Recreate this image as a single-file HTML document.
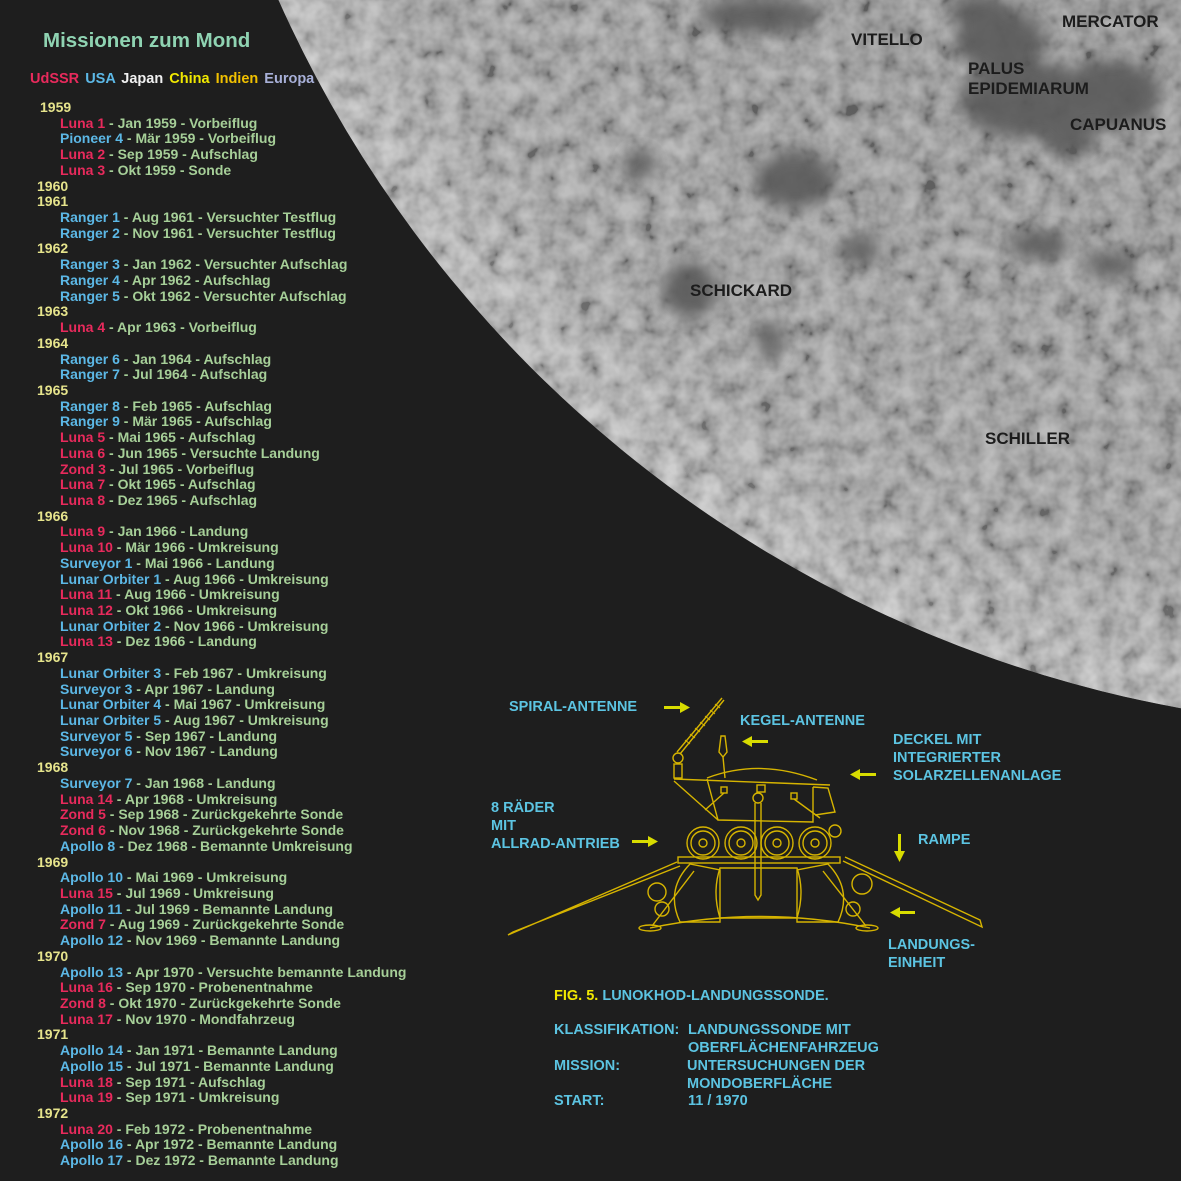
<!DOCTYPE html>
<html><head><meta charset="utf-8"><style>
body{margin:0;width:1181px;height:1181px;background:#1e1e1e;overflow:hidden;position:relative;font-family:"Liberation Sans",sans-serif;font-weight:bold}
.a{position:absolute;white-space:nowrap}
#list{position:absolute;left:0;top:100px;font-size:14px;line-height:15.72px;color:#a6cf98}
#list div{white-space:nowrap;padding-left:60px;height:15.72px}
#list .y{padding-left:37px;color:#e6e48c}
.r{color:#e82a5c}.b{color:#5cb8e6}
.m{color:#1c1c1c;font-size:17px}
.c{color:#5cc4e2;font-size:14.5px;line-height:18px}
</style></head><body>
<svg class="a" style="left:0;top:0" width="1181" height="1181">
<defs>
<radialGradient id="g" cx="1400" cy="-500" r="1228" gradientUnits="userSpaceOnUse">
<stop offset="0.5" stop-color="#8a8a8a"/><stop offset="0.9" stop-color="#9c9c9c"/><stop offset="1" stop-color="#b8b8b8"/></radialGradient>
<filter id="n"><feTurbulence type="fractalNoise" baseFrequency="0.05" numOctaves="3" seed="4"/><feColorMatrix values="1.6 0 0 0 -0.3 1.6 0 0 0 -0.3 1.6 0 0 0 -0.3 0 0 0 0 0.35"/></filter>
<filter id="bl"><feGaussianBlur stdDeviation="8"/></filter>
<clipPath id="cp"><circle cx="1400" cy="-500" r="1228"/></clipPath>
</defs>
<g clip-path="url(#cp)">
<circle cx="1400" cy="-500" r="1228" fill="url(#g)"/>
<rect width="1181" height="1181" filter="url(#n)"/>
<g fill="#5a5a5a" filter="url(#bl)" opacity="0.9">
<ellipse cx="1000" cy="40" rx="45" ry="30"/><ellipse cx="1030" cy="100" rx="70" ry="38"/><ellipse cx="1110" cy="95" rx="50" ry="35"/>
<ellipse cx="980" cy="10" rx="30" ry="15"/><ellipse cx="1070" cy="140" rx="25" ry="15"/>
<ellipse cx="795" cy="180" rx="40" ry="28"/><ellipse cx="690" cy="290" rx="28" ry="28"/><ellipse cx="770" cy="340" rx="12" ry="20"/>
<ellipse cx="760" cy="15" rx="60" ry="18"/><ellipse cx="1040" cy="245" rx="30" ry="14"/><ellipse cx="1110" cy="265" rx="25" ry="12"/>
<ellipse cx="860" cy="250" rx="20" ry="14"/><ellipse cx="640" cy="165" rx="15" ry="15"/>
</g>
</g>
<g stroke="#d6b400" stroke-width="1.4" fill="none">
<line x1="677" y1="752" x2="722" y2="698"/><line x1="680" y1="754" x2="724" y2="700"/>
<g stroke-width="1"><line x1="685" y1="740" x2="690" y2="744"/><line x1="690" y1="734" x2="695" y2="738"/><line x1="695" y1="728" x2="700" y2="732"/><line x1="700" y1="722" x2="705" y2="726"/><line x1="705" y1="716" x2="710" y2="720"/><line x1="710" y1="710" x2="715" y2="714"/><line x1="715" y1="704" x2="720" y2="708"/></g>
<circle cx="678" cy="758" r="5"/><rect x="674" y="764" width="8" height="14"/>
<path d="M721 736 L725 736 L727 752 L723 757 L719 752 Z"/><line x1="723" y1="757" x2="725" y2="778"/>
<path d="M674 779 L830 785"/>
<path d="M707 778 Q760 758 817 780"/>
<path d="M707 779 L718 820 L813 822 L813 787"/>
<path d="M674 781 L718 820"/><path d="M813 787 L828 788 L835 812 L815 815"/>
<rect x="721" y="787" width="6" height="6"/><line x1="724" y1="793" x2="705" y2="810"/>
<rect x="791" y="793" width="6" height="6"/><line x1="794" y1="799" x2="820" y2="818"/>
<circle cx="835" cy="831" r="6"/>
<g>
<circle cx="703" cy="843" r="16"/><circle cx="703" cy="843" r="12"/><circle cx="703" cy="843" r="4"/>
<circle cx="741" cy="843" r="16"/><circle cx="741" cy="843" r="12"/><circle cx="741" cy="843" r="4"/>
<circle cx="777" cy="843" r="16"/><circle cx="777" cy="843" r="12"/><circle cx="777" cy="843" r="4"/>
<circle cx="815" cy="843" r="16"/><circle cx="815" cy="843" r="12"/><circle cx="815" cy="843" r="4"/>
</g>
<rect x="757" y="785" width="8" height="7"/><circle cx="758" cy="798" r="5"/>
<path d="M755 803 L755 895 L758 900 L761 895 L761 803"/>
<rect x="678" y="857" width="162" height="6"/>
<path d="M677 862 L508 935 L513 932 L680 866"/>
<path d="M843 861 L982 927 L980 920 L845 857"/>
<path d="M690 864 Q665 890 680 922 L720 922 L720 870 Z"/>
<path d="M720 868 Q712 892 720 918 L797 918 Q805 892 797 868 Z"/>
<path d="M828 864 Q853 890 838 922 L797 922 L797 870 Z"/>
<path d="M650 928 Q760 905 870 928"/>
<ellipse cx="650" cy="928" rx="11" ry="3"/><ellipse cx="867" cy="928" rx="11" ry="3"/>
<circle cx="657" cy="892" r="9"/><circle cx="862" cy="884" r="10"/><circle cx="662" cy="909" r="7"/><circle cx="853" cy="909" r="7"/>
<line x1="694" y1="871" x2="652" y2="926"/><line x1="823" y1="871" x2="866" y2="926"/>
</g>
<g fill="#d8dc00">
<path d="M664 706 L680 706 L680 702 L690 707.5 L680 713 L680 709 L664 709 Z"/>
<path d="M768 740 L752 740 L752 736 L742 741.5 L752 747 L752 743 L768 743 Z"/>
<path d="M876 773 L860 773 L860 769 L850 774.5 L860 780 L860 776 L876 776 Z"/>
<path d="M632 840 L648 840 L648 836 L658 841.5 L648 847 L648 843 L632 843 Z"/>
<path d="M898 834 L898 851 L894 851 L899.5 862 L905 851 L901 851 L901 834 Z"/>
<path d="M915 911 L900 911 L900 907 L890 912.5 L900 918 L900 914 L915 914 Z"/>
</g>
</svg>
<div class="a" style="left:43px;top:29px;font-size:20.5px;color:#8fd3b2">Missionen zum Mond</div>
<div class="a" style="left:30px;top:71px;font-size:14.5px;word-spacing:2px"><span class="r">UdSSR</span> <span class="b">USA</span> <span style="color:#f0f0f0">Japan</span> <span style="color:#f0e800">China</span> <span style="color:#f0c000">Indien</span> <span style="color:#a8b0d8">Europa</span></div>
<div id="list">
<div class="y" style="padding-left:40px">1959</div>
<div><span class="r">Luna 1</span> - Jan 1959 - Vorbeiflug</div>
<div><span class="b">Pioneer 4</span> - Mär 1959 - Vorbeiflug</div>
<div><span class="r">Luna 2</span> - Sep 1959 - Aufschlag</div>
<div><span class="r">Luna 3</span> - Okt 1959 - Sonde</div>
<div class="y">1960</div>
<div class="y">1961</div>
<div><span class="b">Ranger 1</span> - Aug 1961 - Versuchter Testflug</div>
<div><span class="b">Ranger 2</span> - Nov 1961 - Versuchter Testflug</div>
<div class="y">1962</div>
<div><span class="b">Ranger 3</span> - Jan 1962 - Versuchter Aufschlag</div>
<div><span class="b">Ranger 4</span> - Apr 1962 - Aufschlag</div>
<div><span class="b">Ranger 5</span> - Okt 1962 - Versuchter Aufschlag</div>
<div class="y">1963</div>
<div><span class="r">Luna 4</span> - Apr 1963 - Vorbeiflug</div>
<div class="y">1964</div>
<div><span class="b">Ranger 6</span> - Jan 1964 - Aufschlag</div>
<div><span class="b">Ranger 7</span> - Jul 1964 - Aufschlag</div>
<div class="y">1965</div>
<div><span class="b">Ranger 8</span> - Feb 1965 - Aufschlag</div>
<div><span class="b">Ranger 9</span> - Mär 1965 - Aufschlag</div>
<div><span class="r">Luna 5</span> - Mai 1965 - Aufschlag</div>
<div><span class="r">Luna 6</span> - Jun 1965 - Versuchte Landung</div>
<div><span class="r">Zond 3</span> - Jul 1965 - Vorbeiflug</div>
<div><span class="r">Luna 7</span> - Okt 1965 - Aufschlag</div>
<div><span class="r">Luna 8</span> - Dez 1965 - Aufschlag</div>
<div class="y">1966</div>
<div><span class="r">Luna 9</span> - Jan 1966 - Landung</div>
<div><span class="r">Luna 10</span> - Mär 1966 - Umkreisung</div>
<div><span class="b">Surveyor 1</span> - Mai 1966 - Landung</div>
<div><span class="b">Lunar Orbiter 1</span> - Aug 1966 - Umkreisung</div>
<div><span class="r">Luna 11</span> - Aug 1966 - Umkreisung</div>
<div><span class="r">Luna 12</span> - Okt 1966 - Umkreisung</div>
<div><span class="b">Lunar Orbiter 2</span> - Nov 1966 - Umkreisung</div>
<div><span class="r">Luna 13</span> - Dez 1966 - Landung</div>
<div class="y">1967</div>
<div><span class="b">Lunar Orbiter 3</span> - Feb 1967 - Umkreisung</div>
<div><span class="b">Surveyor 3</span> - Apr 1967 - Landung</div>
<div><span class="b">Lunar Orbiter 4</span> - Mai 1967 - Umkreisung</div>
<div><span class="b">Lunar Orbiter 5</span> - Aug 1967 - Umkreisung</div>
<div><span class="b">Surveyor 5</span> - Sep 1967 - Landung</div>
<div><span class="b">Surveyor 6</span> - Nov 1967 - Landung</div>
<div class="y">1968</div>
<div><span class="b">Surveyor 7</span> - Jan 1968 - Landung</div>
<div><span class="r">Luna 14</span> - Apr 1968 - Umkreisung</div>
<div><span class="r">Zond 5</span> - Sep 1968 - Zurückgekehrte Sonde</div>
<div><span class="r">Zond 6</span> - Nov 1968 - Zurückgekehrte Sonde</div>
<div><span class="b">Apollo 8</span> - Dez 1968 - Bemannte Umkreisung</div>
<div class="y">1969</div>
<div><span class="b">Apollo 10</span> - Mai 1969 - Umkreisung</div>
<div><span class="r">Luna 15</span> - Jul 1969 - Umkreisung</div>
<div><span class="b">Apollo 11</span> - Jul 1969 - Bemannte Landung</div>
<div><span class="r">Zond 7</span> - Aug 1969 - Zurückgekehrte Sonde</div>
<div><span class="b">Apollo 12</span> - Nov 1969 - Bemannte Landung</div>
<div class="y">1970</div>
<div><span class="b">Apollo 13</span> - Apr 1970 - Versuchte bemannte Landung</div>
<div><span class="r">Luna 16</span> - Sep 1970 - Probenentnahme</div>
<div><span class="r">Zond 8</span> - Okt 1970 - Zurückgekehrte Sonde</div>
<div><span class="r">Luna 17</span> - Nov 1970 - Mondfahrzeug</div>
<div class="y">1971</div>
<div><span class="b">Apollo 14</span> - Jan 1971 - Bemannte Landung</div>
<div><span class="b">Apollo 15</span> - Jul 1971 - Bemannte Landung</div>
<div><span class="r">Luna 18</span> - Sep 1971 - Aufschlag</div>
<div><span class="r">Luna 19</span> - Sep 1971 - Umkreisung</div>
<div class="y">1972</div>
<div><span class="r">Luna 20</span> - Feb 1972 - Probenentnahme</div>
<div><span class="b">Apollo 16</span> - Apr 1972 - Bemannte Landung</div>
<div><span class="b">Apollo 17</span> - Dez 1972 - Bemannte Landung</div>
</div>
<div class="a m" style="left:851px;top:30px">VITELLO</div>
<div class="a m" style="left:1062px;top:12px">MERCATOR</div>
<div class="a m" style="left:968px;top:59px;line-height:20px">PALUS<br>EPIDEMIARUM</div>
<div class="a m" style="left:1070px;top:115px">CAPUANUS</div>
<div class="a m" style="left:690px;top:281px">SCHICKARD</div>
<div class="a m" style="left:985px;top:429px">SCHILLER</div>
<div class="a c" style="left:509px;top:698px">SPIRAL-ANTENNE</div>
<div class="a c" style="left:740px;top:712px">KEGEL-ANTENNE</div>
<div class="a c" style="left:893px;top:731px">DECKEL MIT<br>INTEGRIERTER<br>SOLARZELLENANLAGE</div>
<div class="a c" style="left:491px;top:799px">8 RÄDER<br>MIT<br>ALLRAD-ANTRIEB</div>
<div class="a c" style="left:918px;top:831px">RAMPE</div>
<div class="a c" style="left:888px;top:936px">LANDUNGS-<br>EINHEIT</div>
<div class="a c" style="left:554px;top:987px"><span style="color:#f0e800">FIG. 5.</span> LUNOKHOD-LANDUNGSSONDE.</div>
<div class="a c" style="left:554px;top:1021px">KLASSIFIKATION:</div>
<div class="a c" style="left:688px;top:1021px">LANDUNGSSONDE MIT<br>OBERFLÄCHENFAHRZEUG</div>
<div class="a c" style="left:554px;top:1057px">MISSION:</div>
<div class="a c" style="left:687px;top:1057px">UNTERSUCHUNGEN DER<br>MONDOBERFLÄCHE</div>
<div class="a c" style="left:554px;top:1092px">START:</div>
<div class="a c" style="left:688px;top:1092px">11 / 1970</div>
</body></html>
